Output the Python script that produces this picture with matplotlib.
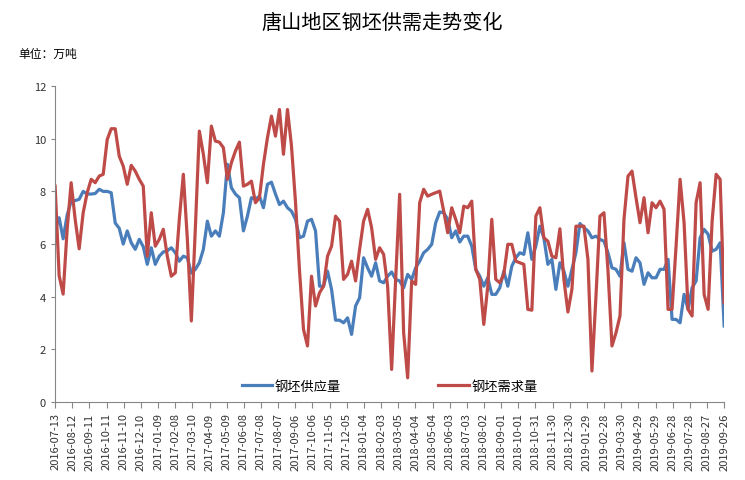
import numpy as np
import pandas as pd
import matplotlib
matplotlib.use("Agg")
import matplotlib.pyplot as plt
import matplotlib.dates as mdates

plt.rcParams['font.family'] = ['Noto Sans CJK SC', 'DejaVu Sans']

# weekly data, 2016-07-13 .. 2019-09-26
start_date = '2016-07-13'
end_date = '2019-09-26'

supply = [
    6.56, 7.0, 6.2, 7.1, 7.63, 7.65, 7.7, 8.0, 7.9, 7.9, 7.92, 8.08, 8.0, 8.0, 7.95, 6.8,
    6.6, 6.0, 6.5, 6.05, 5.8, 6.18, 5.9, 5.23, 5.86, 5.23, 5.54, 5.7, 5.75, 5.86, 5.67, 5.35,
    5.54, 5.48, 4.9, 5.04, 5.29, 5.8, 6.87, 6.3, 6.5, 6.3, 7.19, 9.03, 8.14, 7.9, 7.76, 6.5,
    7.06, 7.76, 7.7, 7.82, 7.38, 8.27, 8.35, 7.9, 7.5,
    7.63, 7.38, 7.25, 6.94, 6.24, 6.3, 6.87, 6.94, 6.5, 4.4, 4.4, 4.97, 4.28, 3.11, 3.11, 3.01,
    3.2, 2.57, 3.65, 3.96, 5.48, 5.1, 4.78, 5.29, 4.6, 4.53, 4.78, 4.94, 4.66, 4.6, 4.34, 4.85,
    4.66, 5.1, 5.35, 5.67, 5.8, 5.99, 6.81, 7.22, 7.19, 6.94, 6.24, 6.5, 6.08, 6.3, 6.3, 5.92,
    5.04, 4.78, 4.4, 4.72, 4.09, 4.09, 4.34,
    4.97, 4.4, 5.16, 5.48, 5.67, 5.61, 6.43, 5.42, 5.92, 6.68, 6.24, 5.23, 5.42, 4.28, 5.29, 4.97,
    4.4, 5.04, 5.67, 6.78, 6.62, 6.5, 6.24, 6.3, 6.18, 6.11, 5.67, 5.1, 5.04, 4.78, 6.05, 5.04,
    4.97, 5.48, 5.29, 4.47, 4.91, 4.72, 4.72, 5.04, 5.04, 5.42, 3.14, 3.14, 3.01, 4.09, 3.52, 4.34,
    4.6, 6.24, 6.56, 6.37, 5.73, 5.8, 6.05, 2.89,
]

demand = [
    8.2, 4.8, 4.1, 6.56, 8.33, 6.94, 5.82, 7.19, 7.95, 8.46, 8.33, 8.58, 8.65, 9.97, 10.38, 10.38,
    9.34, 8.96, 8.27, 8.99, 8.77, 8.46, 8.2, 5.54, 7.19, 5.92, 6.18, 6.56, 5.54, 4.78, 4.91, 6.94,
    8.65, 6.2, 3.08, 6.6, 10.29, 9.41, 8.33, 10.48, 9.91, 9.87, 9.66, 8.46, 9.09, 9.53, 9.87, 8.2,
    8.27, 8.39, 7.57, 7.76, 9.03, 10.04, 10.86, 10.1, 11.11,
    9.41, 11.11, 9.72, 7.6, 5.0, 2.76, 2.13, 4.78, 3.65, 4.15, 4.4, 5.54, 5.92, 7.06, 6.87, 4.66,
    4.85, 5.35, 4.6, 5.8, 6.87, 7.32, 6.62, 5.42, 5.86, 5.61, 4.4, 1.24, 4.66, 7.89, 2.63, 0.92,
    4.6, 4.47, 7.57, 8.08, 7.82, 7.89, 7.95, 8.01, 7.25, 6.43, 7.38, 6.94, 6.43, 7.44, 7.38, 7.63,
    5.04, 4.66, 2.95, 4.4, 6.94, 4.66, 4.53,
    4.85, 5.99, 5.99, 5.35, 5.29, 5.23, 3.52, 3.49, 7.06, 7.38, 6.24, 6.11, 5.54, 5.48, 6.58, 4.66,
    3.42, 4.28, 6.68, 6.68, 6.68, 5.42, 1.18, 4.0, 7.06, 7.19, 5.0, 2.13, 2.63, 3.27, 6.94, 8.58,
    8.77, 7.76, 6.81, 7.76, 6.43, 7.57, 7.38, 7.63, 7.32, 3.52, 3.52, 5.92, 8.46, 6.81, 3.52, 3.27,
    7.57, 8.33, 4.09, 3.52, 6.87, 8.65, 8.46, 3.77,
]

series_names = ['钢坯供应量', '钢坯需求量']
title = '唐山地区钢坯供需走势变化'
unit_label = '单位：万吨'

dates = pd.date_range(start_date, end_date, periods=len(supply))
tick_dates = pd.date_range(start_date, end_date, freq='30D')

fig = plt.figure(figsize=(7.45, 4.81), dpi=100)
ax = fig.add_axes([0.074, 0.162, 0.898, 0.657])

ax.plot(dates, supply, color='#4a7ebb', lw=2.3, label=series_names[0])
ax.plot(dates, demand, color='#be4b48', lw=2.3, label=series_names[1])

ax.set_xlim(dates[0], dates[-1])
ax.set_ylim(0, 12)
ax.set_yticks(range(0, 13, 2))
ax.set_xticks(tick_dates)
ax.xaxis.set_major_formatter(mdates.DateFormatter('%Y-%m-%d'))
ax.tick_params(axis='x', rotation=90, labelsize=8, length=4, color='#868686',
               labelcolor='#333333')
ax.tick_params(axis='y', labelsize=8, length=3, color='#868686', labelcolor='#333333')

for s in ['top', 'right']:
    ax.spines[s].set_visible(False)
for s in ['left', 'bottom']:
    ax.spines[s].set_color('#868686')
    ax.spines[s].set_linewidth(0.8)

ax.legend(loc='center', bbox_to_anchor=(0.5, 0.05), ncol=2, frameon=False,
          fontsize=9.5, handlelength=2.3, handletextpad=0.2, columnspacing=7.4)

fig.text(0.513, 0.952, title, ha='center', va='center', fontsize=14.5)
fig.text(0.024, 0.886, unit_label, ha='left', va='center', fontsize=8.5)

fig.savefig('out.png', dpi=100)
